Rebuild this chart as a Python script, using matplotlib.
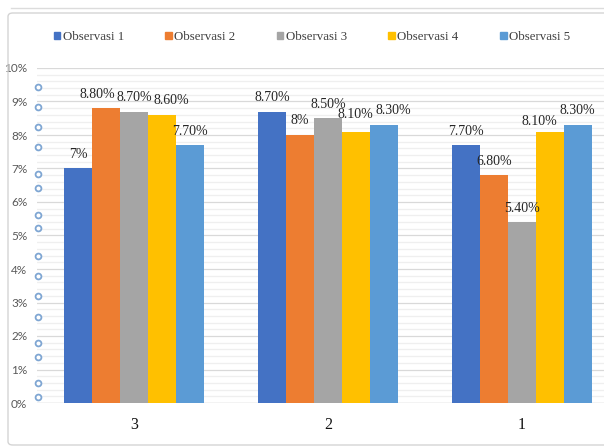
import matplotlib
matplotlib.use("Agg")
import matplotlib.pyplot as plt
from matplotlib.patches import FancyBboxPatch, Rectangle
from matplotlib.lines import Line2D
from matplotlib.ticker import MultipleLocator, FuncFormatter
from matplotlib.transforms import blended_transform_factory
import numpy as np

# ---- data -------------------------------------------------------------
categories = ["3", "2", "1"]
series_names = ["Observasi 1", "Observasi 2", "Observasi 3", "Observasi 4", "Observasi 5"]
obs1 = [7.0, 8.7, 7.7]
obs2 = [8.8, 8.0, 6.8]
obs3 = [8.7, 8.5, 5.4]
obs4 = [8.6, 8.1, 8.1]
obs5 = [7.7, 8.3, 8.3]
y_ticks = [0, 1, 2, 3, 4, 5, 6, 7, 8, 9, 10]
# small bullet glyphs sitting along the value axis
axis_bullets = [9.43, 8.84, 8.24, 7.64, 6.84, 6.42, 5.61, 5.22,
                4.39, 3.79, 3.19, 2.57, 1.79, 1.37, 0.60, 0.18]

# ---- style ------------------------------------------------------------
colors = ["#4472C4", "#ED7D31", "#A5A5A5", "#FFC000", "#5B9BD5"]
# per-label nudges (pixels, dx / dy) for the data labels
label_nudges = [
    [(0, 0), (0, 0), (0, 0)],
    [(-9, 0), (0, 0), (0, 0)],
    [(0, 0), (0, 0), (0, 0)],
    [(10, 0), (0, 3), (-10, -4)],
    [(0, 0), (10, 0), (0, 0)],
]
serif = ["Liberation Serif", "DejaVu Serif"]
sans = ["Lato", "DejaVu Sans"]

W, H, DPI = 604, 448, 100
fig = plt.figure(figsize=(W / DPI, H / DPI), dpi=DPI)
fig.patch.set_facecolor("white")

# outer chart frame
frame = FancyBboxPatch((8 / W, 1 - 445 / H), (640 - 8) / W, (445 - 13) / H,
                       boxstyle="round,pad=0,rounding_size=0.008",
                       transform=fig.transFigure, facecolor="none",
                       edgecolor="#d4d4d4", linewidth=1.0)
fig.patches.append(frame)
fig.lines.append(Line2D([11 / W, 1], [1 - 8 / H, 1 - 8 / H],
                        transform=fig.transFigure, color="#dcdcdc", lw=1.0))

ax = fig.add_axes([37 / W, 1 - 403 / H, (619 - 37) / W, (403 - 68) / H])
ax.set_xlim(-0.5, len(categories) - 0.5)
ax.set_ylim(0, 10)
for s in ax.spines.values():
    s.set_visible(False)

ax.yaxis.set_major_locator(MultipleLocator(1))
ax.yaxis.set_minor_locator(MultipleLocator(0.2))
ax.set_yticks(y_ticks)
ax.yaxis.set_major_formatter(FuncFormatter(lambda v, p: f"{int(round(v))}%"))
ax.grid(axis="y", which="major", color="#d9d9d9", lw=0.9, zorder=0)
ax.grid(axis="y", which="minor", color="#efefef", lw=0.9, zorder=0)
ax.set_axisbelow(True)
ax.tick_params(axis="y", which="both", length=0, pad=7, labelcolor="#595959")
for t in ax.get_yticklabels():
    t.set_family(sans)
    t.set_fontsize(8.5)

x = np.arange(len(categories))
ax.set_xticks(x)
ax.set_xticklabels(categories, family=serif, fontsize=11.5, color="#111111")
ax.tick_params(axis="x", length=0, pad=10)

series = [obs1, obs2, obs3, obs4, obs5]
bw = 0.1433
for i, (vals, col, name) in enumerate(zip(series, colors, series_names)):
    xs = x + (i - 2) * bw
    ax.bar(xs, vals, width=bw, color=col, label=name, zorder=2)
    for j, (xv, v) in enumerate(zip(xs, vals)):
        txt = f"{int(v)}%" if float(v).is_integer() else f"{v:.2f}%"
        dx, dy = label_nudges[i][j]
        ax.annotate(txt, (xv, v), xytext=(dx * 0.72, (14 + dy) * 0.72),
                    textcoords="offset points", ha="center", va="center",
                    family=serif, fontsize=10, color="#262626", zorder=3)

ax.axhline(0, color="#d9d9d9", lw=1.0, zorder=1)

# bullets along the value axis
tr = blended_transform_factory(ax.transAxes, ax.transData)
ax.plot(np.full(len(axis_bullets), 0.0012), axis_bullets, transform=tr,
        ls="none", marker="o", ms=4.2, mfc="white", mec="#7fa6d3",
        mew=1.3, clip_on=False, zorder=4)

handles = [Rectangle((0, 0), 1, 1, color=c) for c in colors]
leg = fig.legend(handles, series_names, loc="center",
                 bbox_to_anchor=(312 / W, 1 - 37 / H), ncol=5, frameon=False,
                 handlelength=0.5, handleheight=0.5, handletextpad=0.2,
                 columnspacing=3.2, prop={"family": serif, "size": 9.3})
for t in leg.get_texts():
    t.set_color("#404040")

fig.savefig("out.png", dpi=DPI)
